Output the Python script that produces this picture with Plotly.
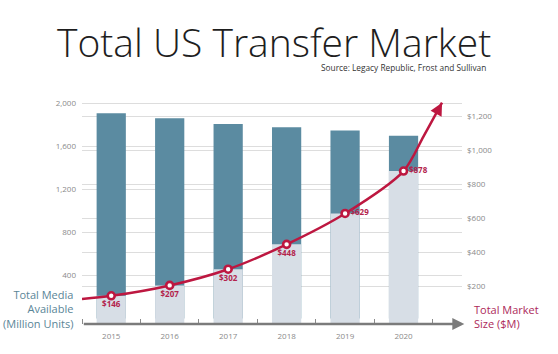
import plotly.graph_objects as go

# ---------------- data ----------------
years = ["2015", "2016", "2017", "2018", "2019", "2020"]
media_units = [1910, 1865, 1810, 1780, 1750, 1700]          # Total Media Available (Million Units), left axis
market_size = [146, 207, 302, 448, 629, 878]                # Total Market Size ($M), right axis
market_labels = ["$146", "$207", "$302", "$448", "$629", "$878"]
left_ticks = [400, 800, 1200, 1600, 2000]
left_tick_labels = ["400", "800", "1,200", "1,600", "2,000"]
right_ticks = [200, 400, 600, 800, 1000, 1200]
right_tick_labels = ["$200", "$400", "$600", "$800", "$1,000", "$1,200"]
# decorative lead-in / arrow tip of the growth curve
curve_lead_x, curve_lead_y = [-0.5], [128]
curve_tip_x, curve_tip_y = [5.34, 5.658], [1080, 1279]
arrow_tail_x, arrow_tail_y = 5.564, 1219

# ---------------- layout geometry ----------------
W, H = 558, 354
ML, MR, MT, MB = 82, 96.3, 100, 29.7
PW, PH = W - ML - MR, H - MT - MB
Y1_RANGE = [-52, 2034]
Y2_RANGE = [-19.3, 1294.7]
X_RANGE = [-0.5, 6.0]

def px_x(px):
    return (px - ML) / PW

def px_y(py):
    return (H - MB - py) / PH

DARK = "#5b8ba1"
LIGHT = "#d7dee6"
RED = "#bd1740"
FONT = "Open Sans"
xs = list(range(len(years)))

fig = go.Figure()

# media bars (left axis)
fig.add_trace(go.Bar(x=xs, y=media_units, width=0.5, marker=dict(color=DARK, line_width=0),
                     yaxis="y", hoverinfo="skip"))
# market bars (right axis), drawn from the axis floor up to the market value
base = Y2_RANGE[0]
fig.add_trace(go.Bar(x=xs, y=[v - base for v in market_size], base=base, width=0.5,
                     marker=dict(color=LIGHT, line_width=0), yaxis="y2", hoverinfo="skip"))
# growth curve
fig.add_trace(go.Scatter(x=curve_lead_x + xs + curve_tip_x,
                         y=curve_lead_y + market_size + curve_tip_y,
                         mode="lines", line=dict(color=RED, width=2.5, shape="spline", smoothing=0.8),
                         yaxis="y2", cliponaxis=False, hoverinfo="skip"))
# points + labels
fig.add_trace(go.Scatter(x=xs, y=market_size, mode="markers+text", text=market_labels,
                         textposition=["bottom center"] * 4 + ["middle right"] * 2,
                         textfont=dict(family=FONT, size=8, color="#b3234c", weight="bold"),
                         marker=dict(size=7, color="white", line=dict(color=RED, width=2.6)),
                         yaxis="y2", cliponaxis=False, hoverinfo="skip"))

annotations = [
    # curve arrowhead
    dict(x=curve_tip_x[-1], y=curve_tip_y[-1], xref="x", yref="y2",
         ax=arrow_tail_x, ay=arrow_tail_y, axref="x", ayref="y2",
         text="", showarrow=True, arrowhead=2, arrowsize=1.0, arrowwidth=2.5, arrowcolor=RED),
    # x axis arrow
    dict(x=px_x(464), y=0, xref="paper", yref="paper", ax=-(464 - ML), ay=0,
         axref="pixel", ayref="pixel",
         text="", showarrow=True, arrowhead=2, arrowsize=1, arrowwidth=2.4, arrowcolor="#7b7b7b"),
    # title
    dict(x=px_x(273.5), y=px_y(41), xref="paper", yref="paper", xanchor="center", yanchor="middle",
         text="Total US Transfer Market", showarrow=False,
         font=dict(family=FONT, size=39, color="#1e1e1e", weight=300)),
    dict(x=px_x(488), y=px_y(67), xref="paper", yref="paper", xanchor="right", yanchor="middle",
         text="Source: Legacy Republic, Frost and Sullivan", showarrow=False,
         font=dict(family=FONT, size=8.3, color="#333333")),
    dict(x=px_x(75), y=px_y(308.8), xref="paper", yref="paper", xanchor="right", yanchor="middle",
         align="right", text="Total Media<br>Available<br>(Million Units)", showarrow=False,
         font=dict(family=FONT, size=11, color="#5a8597")),
    dict(x=px_x(471.5), y=px_y(316.7), xref="paper", yref="paper", xanchor="left", yanchor="middle",
         align="left", text="Total Market<br>Size ($M)", showarrow=False,
         font=dict(family=FONT, size=11, color="#ad2a5a")),
]

fig.update_layout(
    width=W, height=H, margin=dict(l=ML, r=MR, t=MT, b=MB),
    paper_bgcolor="white", plot_bgcolor="white", showlegend=False, barmode="overlay",
    font=dict(family=FONT, color="#8a8a8a", size=8),
    xaxis=dict(range=X_RANGE, tickvals=xs, ticktext=years, ticks="", showgrid=False, zeroline=False,
               showline=False, tickfont=dict(size=8, color="#8a8a8a"), ticklabelstandoff=6,
               minor=dict(tickvals=[i - 0.5 for i in range(len(years) + 1)], ticks="inside",
                          ticklen=5, tickwidth=1, tickcolor="#8a8a8a", showgrid=False)),
    yaxis=dict(range=Y1_RANGE, tickvals=left_ticks, ticktext=left_tick_labels, showgrid=True,
               gridcolor="#dddddd", gridwidth=1, zeroline=False, showline=False, ticks="",
               tickfont=dict(size=8, color="#8a8a8a"), ticklabelstandoff=5),
    yaxis2=dict(range=Y2_RANGE, overlaying="y", side="right", tickvals=right_ticks,
                ticktext=right_tick_labels, showgrid=True, gridcolor="#dddddd", gridwidth=1,
                zeroline=False, showline=False, ticks="", tickfont=dict(size=8, color="#8a8a8a"),
                ticklabelstandoff=4),
    annotations=annotations,
)

fig.write_html("out.html")
